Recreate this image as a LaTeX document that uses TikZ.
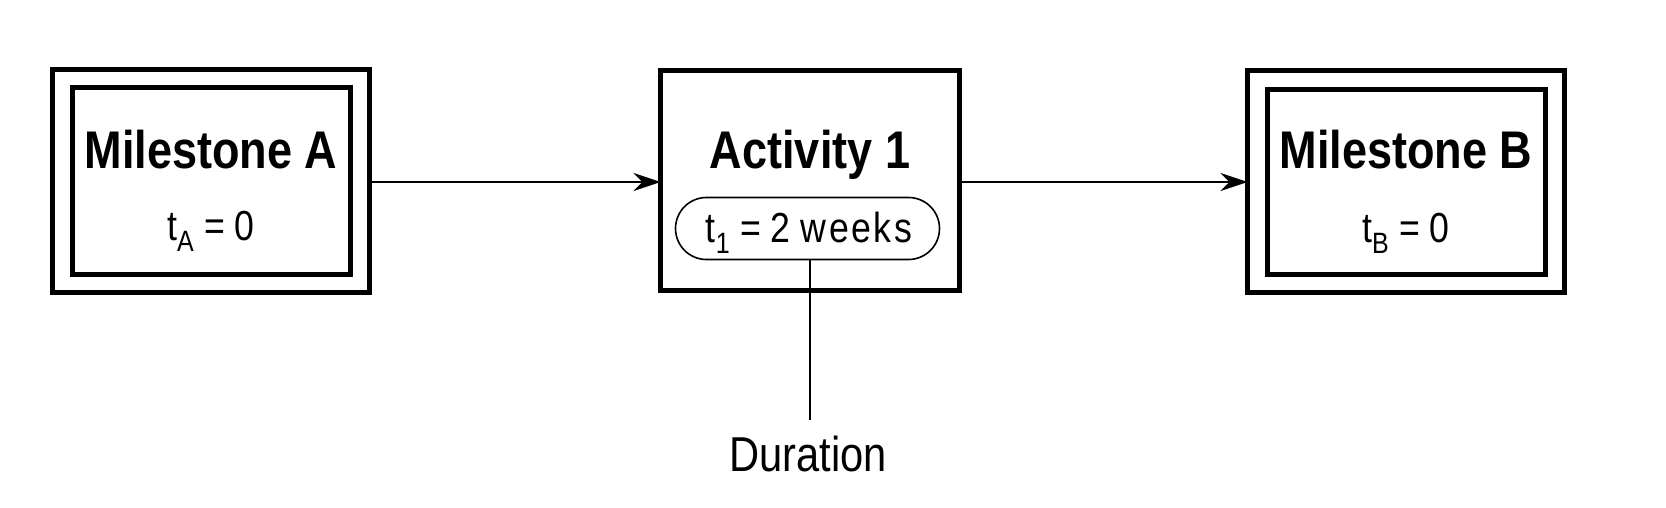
\documentclass[tikz,border=0pt]{standalone}
\usepackage{fontspec}
\setmainfont[FakeStretch=0.85]{Liberation Sans}
\usetikzlibrary{arrows.meta}
\tikzset{
  outerbox/.style={draw, line width=5pt, inner sep=0pt, outer sep=0pt},
  innerbox/.style={draw, line width=5pt, inner sep=0pt, outer sep=0pt},
  titletext/.style={anchor=base, inner sep=0pt, font=\fontsize{53}{60}\selectfont\bfseries},
  subtext/.style={anchor=base, inner sep=0pt, font=\fontsize{42}{50}\selectfont},
  pill/.style={draw, line width=1.6pt, rounded corners=31pt, inner sep=0pt, outer sep=0pt},
  conn/.style={line width=2pt, -{Stealth[length=27pt,width=18pt]}},
  leader/.style={line width=2pt},
}
\begin{document}
\begin{tikzpicture}[x=1pt,y=-1pt]
\useasboundingbox (0,0) rectangle (1666,508);
% Milestone A
\node[outerbox, minimum width=317pt, minimum height=223pt] (A) at (211,181) {};
\node[innerbox, minimum width=278pt, minimum height=187pt] (Ai) at (211.5,181) {};
\node[titletext] (At) at (211,168) {Milestone A};
\node[subtext] (Av) at (211,240) {t\textsubscript{A} = 0};
% Activity 1
\node[outerbox, minimum width=299pt, minimum height=220pt] (Act) at (810,180.5) {};
\node[titletext] (Actt) at (810,168) {Activity 1};
\node[pill, minimum width=264pt, minimum height=62pt] (P) at (807.5,228.5) {};
\node[subtext] (Pt) at (809,242) {t\textsubscript{1} = 2 {\addfontfeatures{LetterSpace=6}weeks}};
% Milestone B
\node[outerbox, minimum width=317pt, minimum height=222pt] (B) at (1406,181.5) {};
\node[innerbox, minimum width=278pt, minimum height=185pt] (Bi) at (1406.5,182) {};
\node[titletext] (Bt) at (1406,168) {Milestone B};
\node[subtext] (Bv) at (1406,242) {t\textsubscript{B} = 0};
% Duration
\node[anchor=base, inner sep=0pt, font=\fontsize{49}{56}\selectfont] (D) at (808,471) {Duration};
\coordinate (Dtop) at (810,420);
% connectors
\draw[conn] (A.east |- 0,182) -- (Act.west |- 0,182);
\draw[conn] (Act.east |- 0,182) -- (B.west |- 0,182);
\draw[leader] (P.south -| 810,0) -- (Dtop);
\end{tikzpicture}
\end{document}
